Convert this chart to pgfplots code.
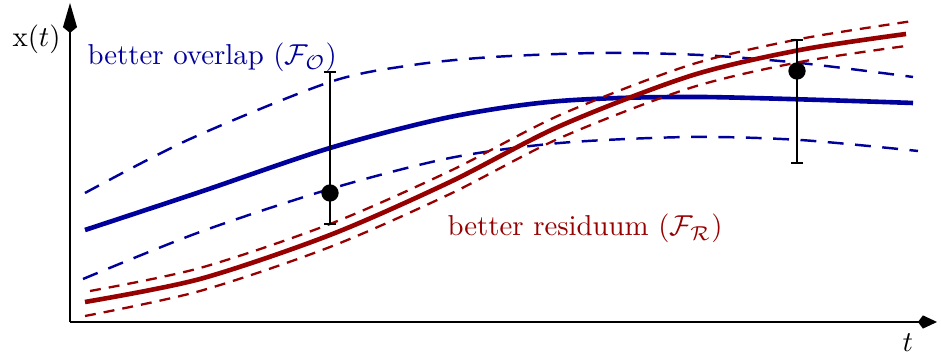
\documentclass[border=0pt]{standalone}
\usepackage{pgfplots}
\pgfplotsset{compat=1.18}
\usetikzlibrary{arrows.meta}

\definecolor{ovblue}{RGB}{0,0,155}
\definecolor{resred}{RGB}{150,0,0}

\begin{document}
\begin{tikzpicture}
\begin{axis}[
  x=0.3472pt, y=0.3472pt,
  xmin=70, xmax=937, ymin=33, ymax=352,
  axis lines=left,
  ticks=none,
  clip=false,
  x axis line style={line width=0.85pt, -{Kite[length=6.6pt,width=4.6pt,inset=1.7pt]}},
  y axis line style={line width=0.85pt, -{Kite[length=10.4pt,width=4.9pt,inset=2pt]}},
]
% page extent
\path (axis cs:0,0) rectangle (axis cs:941,355);

% overlap-based fit with its band
\addplot[ovblue, line width=1.6pt, smooth] coordinates {
  (85,125) (200,163) (330,207) (450,238) (560,254) (700,258) (913,252)};
\addplot[ovblue, line width=0.85pt, smooth, dash pattern=on 5.5pt off 4pt] coordinates {
  (85,162) (190,216) (330,273) (413,290) (493,298) (600,302) (700,300) (800,292) (913,278)};
\addplot[ovblue, line width=0.85pt, smooth, dash pattern=on 5.5pt off 4pt] coordinates {
  (83,76) (200,123) (330,166) (450,197) (560,212) (690,218) (800,215) (918,204)};

% residuum-based fit with its band
\addplot[resred, line width=1.6pt, smooth] coordinates {
  (85,53) (200,76) (330,120) (450,173) (560,229) (690,279) (800,305) (906,321)};
\addplot[resred, line width=0.8pt, smooth, dash pattern=on 3.8pt off 2.8pt] coordinates {
  (90,64) (200,87) (330,131) (450,184) (560,240) (690,290) (800,316) (913,334)};
\addplot[resred, line width=0.8pt, smooth, dash pattern=on 3.8pt off 2.8pt] coordinates {
  (85,39) (200,64) (330,108) (450,161) (560,217) (690,267) (800,293) (906,309)};

% measurements with error bars
\addplot[black, only marks, mark=*, mark size=2.6pt, line width=0.8pt,
  error bars/.cd, y dir=both, y explicit,
  error bar style={line width=0.8pt, black},
  error mark options={black, line width=0.8pt, mark size=2.1pt, rotate=90}]
  coordinates {
  (330,162) += (0,121) -= (0,31)
  (797,284) += (0,31) -= (0,92)};

% labels
\node[anchor=base west, inner sep=0pt] at (axis cs:12,308) {x$(t)$};
\node[anchor=base west, inner sep=0pt] at (axis cs:902,3) {$t$};
\node[anchor=base west, inner sep=0pt, text=ovblue] at (axis cs:87,290)
  {better overlap ($\mathcal{F}_{\mathcal{O}}$)};
\node[anchor=base west, inner sep=0pt, text=resred] at (axis cs:447,119)
  {better residuum ($\mathcal{F}_{\mathcal{R}}$)};
\end{axis}
\end{tikzpicture}
\end{document}
